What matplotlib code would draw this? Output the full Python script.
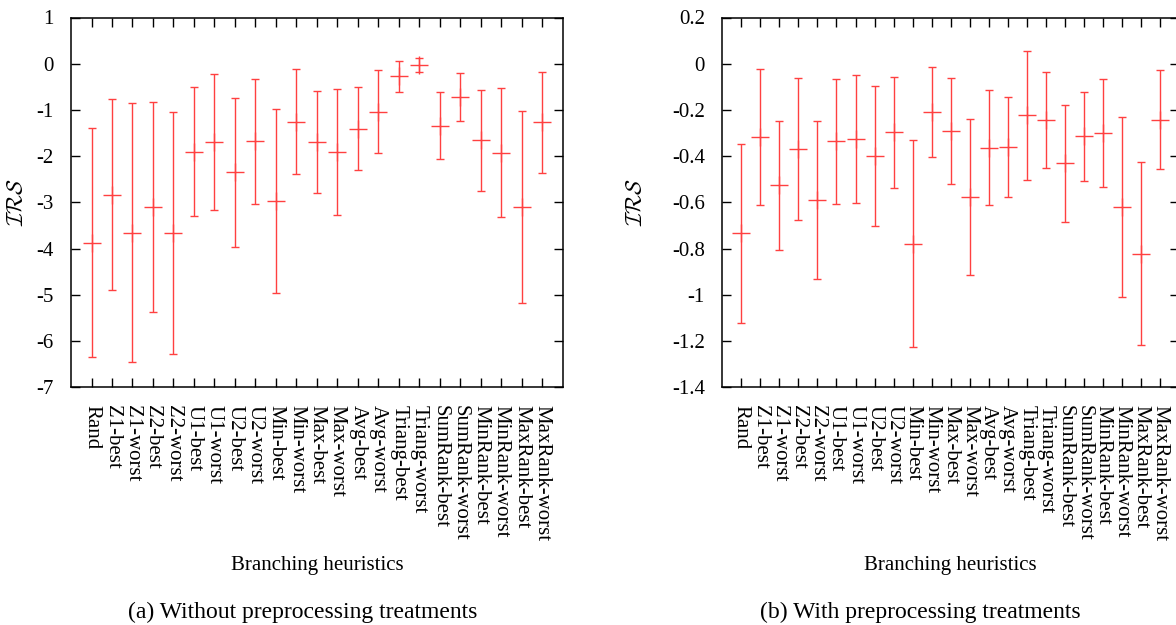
import numpy as np
import matplotlib.pyplot as plt
from matplotlib.ticker import MultipleLocator, FuncFormatter

plt.rcParams['font.family'] = ['Liberation Serif', 'DejaVu Serif']
plt.rcParams['mathtext.fontset'] = 'cm'
plt.rcParams['axes.unicode_minus'] = False

# Heuristicas avaliadas
heuristicas = ['Rand', 'Z1-best', 'Z1-worst', 'Z2-best', 'Z2-worst', 'U1-best', 'U1-worst',
               'U2-best', 'U2-worst', 'Min-best', 'Min-worst', 'Max-best', 'Max-worst',
               'Avg-best', 'Avg-worst', 'Triang-best', 'Triang-worst', 'SumRank-best',
               'SumRank-worst', 'MinRank-best', 'MinRank-worst', 'MaxRank-best', 'MaxRank-worst']

# (a) sem pre-processamento: media, limite inferior e superior
media_a = [-3.87, -2.83, -3.66, -3.09, -3.66, -1.90, -1.70, -2.34, -1.68, -2.97, -1.26, -1.69,
           -1.91, -1.41, -1.05, -0.27, -0.02, -1.34, -0.71, -1.66, -1.93, -3.09, -1.27]
inf_a = [-6.35, -4.90, -6.46, -5.37, -6.28, -3.30, -3.16, -3.96, -3.04, -4.97, -2.39, -2.80,
         -3.28, -2.30, -1.94, -0.61, -0.18, -2.07, -1.23, -2.76, -3.32, -5.18, -2.36]
sup_a = [-1.40, -0.76, -0.86, -0.82, -1.04, -0.51, -0.23, -0.74, -0.32, -0.97, -0.12, -0.59,
         -0.54, -0.50, -0.14, 0.05, 0.12, -0.61, -0.19, -0.56, -0.53, -1.02, -0.18]

# (b) com pre-processamento
media_b = [-0.734, -0.316, -0.525, -0.368, -0.590, -0.335, -0.327, -0.400, -0.296, -0.778,
           -0.207, -0.290, -0.577, -0.364, -0.361, -0.221, -0.242, -0.431, -0.314, -0.300,
           -0.622, -0.824, -0.244]
inf_b = [-1.121, -0.610, -0.804, -0.677, -0.931, -0.607, -0.604, -0.700, -0.537, -1.224,
         -0.403, -0.519, -0.916, -0.610, -0.578, -0.501, -0.452, -0.684, -0.509, -0.535,
         -1.011, -1.219, -0.457]
sup_b = [-0.348, -0.022, -0.247, -0.061, -0.247, -0.065, -0.050, -0.097, -0.056, -0.332,
         -0.012, -0.061, -0.239, -0.115, -0.144, 0.056, -0.036, -0.179, -0.121, -0.065,
         -0.232, -0.427, -0.029]

fig = plt.figure(figsize=(11.76, 6.25), dpi=100)
ax_a = fig.add_axes([0.0604, 0.3803, 0.4181, 0.5917])
ax_b = fig.add_axes([0.6142, 0.3803, 0.3884, 0.5917])

x = np.arange(1, len(heuristicas) + 1)


def desenha(ax, media, inf, sup, lab_x):
    media = np.array(media)
    erro = [media - np.array(inf), np.array(sup) - media]
    ax.errorbar(x, media, yerr=erro, fmt='none', ecolor='#ff4040', elinewidth=1.0,
                capsize=3.1, capthick=1.0)
    ax.plot(x, media, linestyle='none', marker='+', markersize=12.5, markeredgewidth=1.0,
            color='#ff4040')
    ax.set_xlim(0, len(heuristicas) + 1)
    ax.set_xticks(x)
    ax.set_xticklabels(heuristicas, rotation=-90, ha='center', va='top')
    ax.tick_params(direction='in', top=True, right=True, length=6.5, width=1.0,
                   labelsize=15, pad=12.5)
    for s in ax.spines.values():
        s.set_linewidth(1.1)
    ax.set_xlabel('Branching heuristics', fontsize=15, va='center')
    ax.xaxis.set_label_coords(0.5, -0.4805)
    ax.set_ylabel(r'$\mathcal{IRS}$', fontsize=16, va='center')
    ax.yaxis.set_label_coords(lab_x, 0.5)


desenha(ax_a, media_a, inf_a, sup_a, -0.108)
ax_a.set_ylim(-7, 1)
ax_a.yaxis.set_major_locator(MultipleLocator(1))

desenha(ax_b, media_b, inf_b, sup_b, -0.187)
ax_b.set_ylim(-1.4, 0.2)
ax_b.yaxis.set_major_locator(MultipleLocator(0.2))
ax_b.yaxis.set_major_formatter(FuncFormatter(lambda v, p: f'{round(v, 1) + 0:g}'))

fig.text(303 / 1176, 1 - 612 / 625, '(a) Without preprocessing treatments',
         ha='center', va='center', fontsize=17)
fig.text(920 / 1176, 1 - 612 / 625, '(b) With preprocessing treatments',
         ha='center', va='center', fontsize=17)

plt.savefig('out.png', dpi=100)
